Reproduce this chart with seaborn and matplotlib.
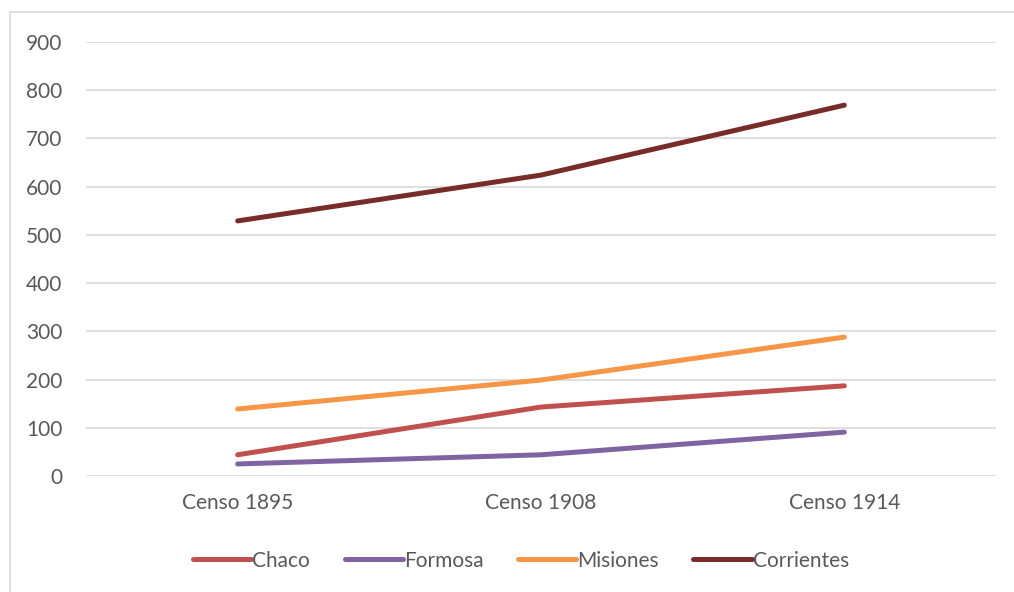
import numpy as np
import pandas as pd
import matplotlib.pyplot as plt
import seaborn as sns
from matplotlib.patches import Rectangle

# Data
censos = ['Censo 1895', 'Censo 1908', 'Censo 1914']
chaco = [44, 143, 187]
formosa = [25, 44, 91]
misiones = [139, 199, 288]
corrientes = [529, 624, 769]

series = ['Chaco', 'Formosa', 'Misiones', 'Corrientes']
colors = ['#C0504D', '#8064A2', '#F79646', '#772C2A']

df = pd.DataFrame({'Censo': censos, 'Chaco': chaco, 'Formosa': formosa,
                   'Misiones': misiones, 'Corrientes': corrientes})
df_long = df.melt(id_vars='Censo', var_name='Provincia', value_name='Valor')

sns.set_style('white')
plt.rcParams['font.family'] = ['Lato', 'DejaVu Sans']

fig = plt.figure(figsize=(10.14, 5.92), dpi=100)
ax = fig.add_axes([86 / 1014, 1 - 476 / 592, 910 / 1014, 434 / 592])

sns.lineplot(data=df_long, x='Censo', y='Valor', hue='Provincia',
             hue_order=series, palette=colors, linewidth=3.6,
             solid_capstyle='round', ax=ax, sort=False)

ax.set_xlim(-0.5, 2.5)
ax.set_ylim(0, 900)
ax.set_yticks(range(0, 901, 100))
ax.grid(axis='y', color='#D9D9D9', linewidth=1.2)
ax.set_axisbelow(True)
for s in ax.spines.values():
    s.set_visible(False)
ax.set_xlabel('')
ax.set_ylabel('')
ax.tick_params(axis='both', length=0, labelsize=15, labelcolor='#595959')
ax.tick_params(axis='y', pad=17)
ax.tick_params(axis='x', pad=12)

handles, labels = ax.get_legend_handles_labels()
for h in handles:
    h.set_linewidth(3.6)
    h.set_solid_capstyle('round')
ax.legend(handles, labels, loc='center', bbox_to_anchor=(0.478, -0.195),
          ncol=4, frameon=False, fontsize=15, labelcolor='#595959',
          handlelength=2.8, handletextpad=0.05, columnspacing=1.65)

# chart area border
fig.patches.append(Rectangle((10 / 1014, -0.01), 1.0, 1 - 12 / 592 + 0.01,
                             transform=fig.transFigure, fill=False,
                             edgecolor='#D9D9D9', linewidth=1.2))

fig.savefig('out.png', dpi=100)
